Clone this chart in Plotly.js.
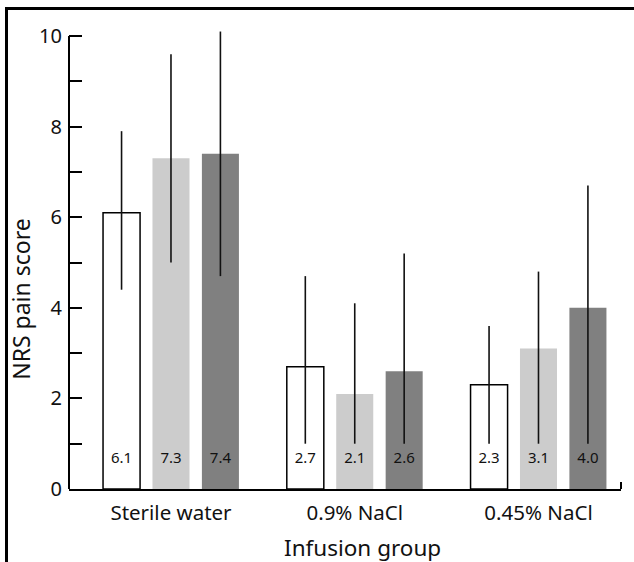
<!DOCTYPE html>
<html>
<head>
<meta charset="utf-8">
<script src="https://cdn.plot.ly/plotly-3.0.1.min.js"></script>
<style>
html,body{margin:0;padding:0;background:#fff;}
#chart{width:634px;height:562px;position:relative;}
#frame{position:absolute;left:5px;top:7px;width:640px;height:600px;border-left:3px solid #000;border-top:3px solid #000;pointer-events:none;}
</style>
</head>
<body>
<div style="position:relative;width:634px;height:562px;overflow:hidden;">
<div id="chart"></div>
<div id="frame"></div>
</div>
<script>
const groups = ["Sterile water", "0.9% NaCl", "0.45% NaCl"];
const seriesA = [6.1, 2.7, 2.3];
const seriesB = [7.3, 2.1, 3.1];
const seriesC = [7.4, 2.6, 4.0];
const upperA = [7.9, 4.7, 3.6];
const upperB = [9.6, 4.1, 4.8];
const upperC = [10.1, 5.2, 6.7];
const lowerA = [4.4, 1.0, 1.0];
const lowerB = [5.0, 1.0, 1.0];
const lowerC = [4.7, 1.0, 1.0];
const yTickVals = [0,1,2,3,4,5,6,7,8,9,10];
const yTickText = ["0","","2","","4","","6","","8","","10"];

const bargap = 0.193, bargroupgap = 0.251;
const slot = (1 - bargap) / 3;
const xs = groups.map((g, i) => i);
const fmt = v => v.toFixed(1);
const yTop = 10.2;

function barTrace(vals, up, lo, fill, outline) {
  return {
    type: 'bar', x: xs, y: vals,
    marker: {color: fill, line: {color: outline ? '#000' : fill, width: outline ? 1.5 : 0}},
    error_y: {type: 'data', symmetric: false,
      array: vals.map((v, i) => up[i] - v),
      arrayminus: vals.map((v, i) => v - lo[i]),
      width: 0, thickness: 1.6, color: '#111'},
    cliponaxis: false, hoverinfo: 'none', showlegend: false
  };
}
function labelTrace(vals, k) {
  return {
    type: 'scatter', mode: 'text',
    x: xs.map(x => x + (k - 1) * slot),
    y: vals.map(() => 0.65),
    text: vals.map(fmt),
    textfont: {family: 'Noto Sans, sans-serif', size: 15, color: '#111'},
    hoverinfo: 'none', showlegend: false, cliponaxis: false
  };
}

const data = [
  barTrace(seriesA, upperA, lowerA, '#ffffff', true),
  barTrace(seriesB, upperB, lowerB, '#cccccc', false),
  barTrace(seriesC, upperC, lowerC, '#808080', false),
  labelTrace(seriesA, 0), labelTrace(seriesB, 1), labelTrace(seriesC, 2)
];

const layout = {
  width: 634, height: 562,
  margin: {l: 69, r: 13, t: 27, b: 73},
  paper_bgcolor: '#fff', plot_bgcolor: '#fff',
  barmode: 'group', bargap: bargap, bargroupgap: bargroupgap,
  font: {family: 'Noto Sans, sans-serif', color: '#111'},
  xaxis: {
    type: 'linear', range: [-0.555, 2.449],
    tickvals: xs, ticktext: groups, ticks: '',
    showgrid: false, zeroline: false,
    showline: true, linecolor: '#000', linewidth: 2,
    tickfont: {size: 20.5, color: '#111'}, ticklabelstandoff: 4
  },
  yaxis: {
    range: [0, yTop], tickvals: yTickVals, ticktext: yTickText,
    ticks: 'inside', ticklen: 13, tickwidth: 2, tickcolor: '#000',
    showgrid: false, zeroline: false, showline: false,
    tickfont: {size: 20, color: '#111'}, ticklabelstandoff: 6
  },
  shapes: [
    {type: 'line', xref: 'paper', yref: 'y', x0: 0, x1: 0, y0: 0, y1: 10, line: {color: '#000', width: 2}},
    {type: 'line', xref: 'paper', yref: 'paper', x0: 1, x1: 1, y0: 0, y1: 7/462, line: {color: '#000', width: 2}}
  ],
  annotations: [
    {text: 'Infusion group', xref: 'paper', yref: 'paper', x: 0.531, y: -0.1277, xanchor: 'center', yanchor: 'middle', showarrow: false, font: {size: 22.5, color: '#111'}},
    {text: 'NRS pain score', xref: 'paper', yref: 'paper', x: -0.0875, y: 0.411, xanchor: 'center', yanchor: 'middle', textangle: -90, showarrow: false, font: {size: 23, color: '#111'}}
  ]
};

Plotly.newPlot('chart', data, layout, {displayModeBar: false, staticPlot: true});
</script>
</body>
</html>
